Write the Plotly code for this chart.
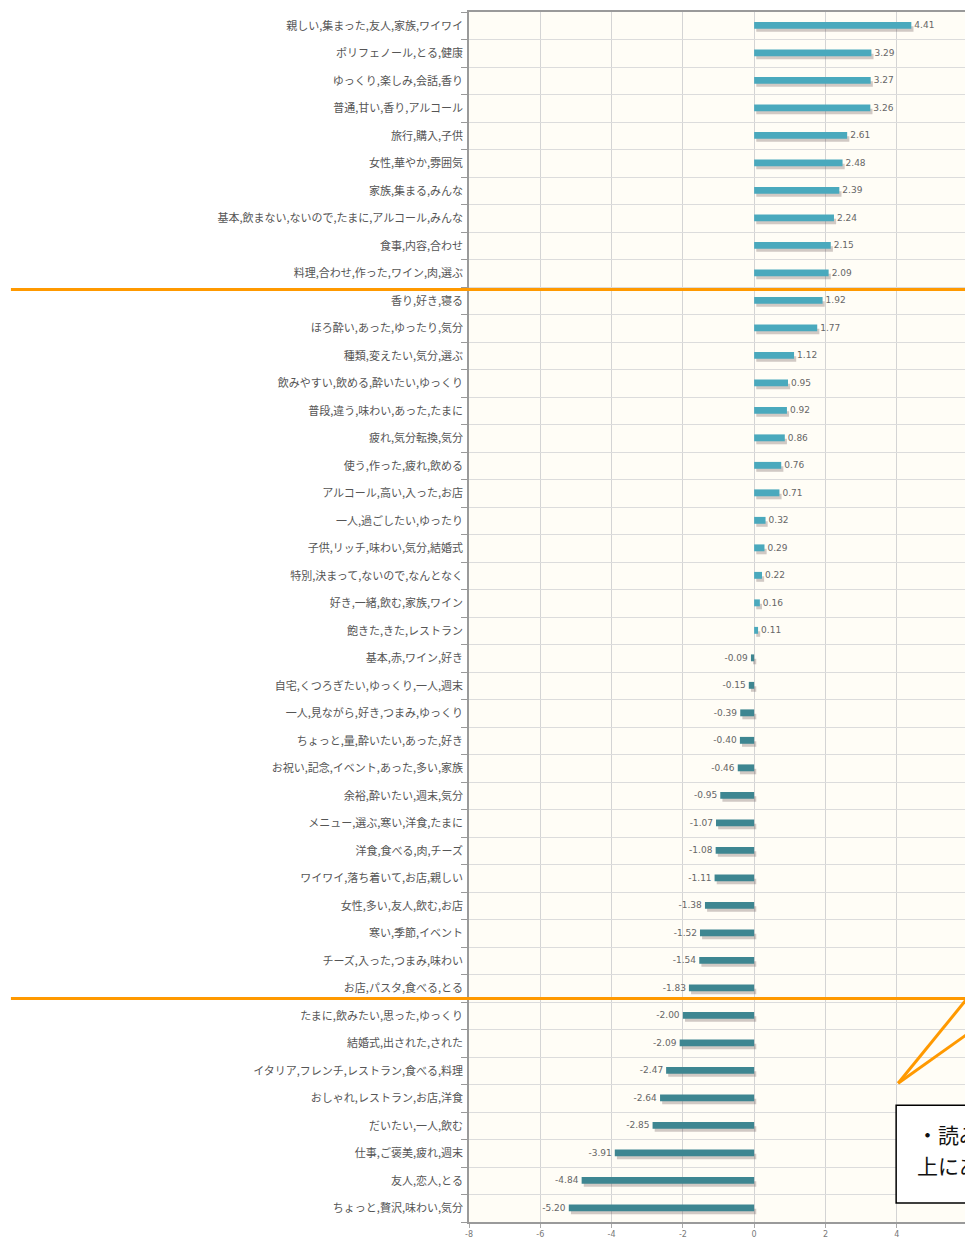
import plotly.graph_objects as go

categories = [
    "親しい,集まった,友人,家族,ワイワイ",
    "ポリフェノール,とる,健康",
    "ゆっくり,楽しみ,会話,香り",
    "普通,甘い,香り,アルコール",
    "旅行,購入,子供",
    "女性,華やか,雰囲気",
    "家族,集まる,みんな",
    "基本,飲まない,ないので,たまに,アルコール,みんな",
    "食事,内容,合わせ",
    "料理,合わせ,作った,ワイン,肉,選ぶ",
    "香り,好き,寝る",
    "ほろ酔い,あった,ゆったり,気分",
    "種類,変えたい,気分,選ぶ",
    "飲みやすい,飲める,酔いたい,ゆっくり",
    "普段,違う,味わい,あった,たまに",
    "疲れ,気分転換,気分",
    "使う,作った,疲れ,飲める",
    "アルコール,高い,入った,お店",
    "一人,過ごしたい,ゆったり",
    "子供,リッチ,味わい,気分,結婚式",
    "特別,決まって,ないので,なんとなく",
    "好き,一緒,飲む,家族,ワイン",
    "飽きた,きた,レストラン",
    "基本,赤,ワイン,好き",
    "自宅,くつろぎたい,ゆっくり,一人,週末",
    "一人,見ながら,好き,つまみ,ゆっくり",
    "ちょっと,量,酔いたい,あった,好き",
    "お祝い,記念,イベント,あった,多い,家族",
    "余裕,酔いたい,週末,気分",
    "メニュー,選ぶ,寒い,洋食,たまに",
    "洋食,食べる,肉,チーズ",
    "ワイワイ,落ち着いて,お店,親しい",
    "女性,多い,友人,飲む,お店",
    "寒い,季節,イベント",
    "チーズ,入った,つまみ,味わい",
    "お店,パスタ,食べる,とる",
    "たまに,飲みたい,思った,ゆっくり",
    "結婚式,出された,された",
    "イタリア,フレンチ,レストラン,食べる,料理",
    "おしゃれ,レストラン,お店,洋食",
    "だいたい,一人,飲む",
    "仕事,ご褒美,疲れ,週末",
    "友人,恋人,とる",
    "ちょっと,贅沢,味わい,気分",
]
values = [
    4.41, 3.29, 3.27, 3.26, 2.61, 2.48, 2.39, 2.24, 2.15, 2.09,
    1.92, 1.77, 1.12, 0.95, 0.92, 0.86, 0.76, 0.71, 0.32, 0.29,
    0.22, 0.16, 0.11, -0.09, -0.15, -0.39, -0.40, -0.46, -0.95, -1.07,
    -1.08, -1.11, -1.38, -1.52, -1.54, -1.83, -2.00, -2.09, -2.47, -2.64,
    -2.85, -3.91, -4.84, -5.20,
]
x_ticks = [-8, -6, -4, -2, 0, 2, 4, 6]
callout_lines = ["・読み取れる", "上にある"]

# bottom-to-top order for the category axis
cats = categories[::-1]
vals = values[::-1]

POS = "#4aa9bd"
NEG = "#3e8691"
colors = [POS if v >= 0 else NEG for v in vals]
font_jp = "Noto Sans CJK JP"

fig = go.Figure()

# soft shadow under each bar
fig.add_trace(go.Bar(
    y=cats, x=vals, orientation="h",
    base=[0.06 for v in vals],
    width=0.2, offset=-0.22,
    marker=dict(color="rgba(90,70,70,0.28)", line=dict(width=0)),
    hoverinfo="skip", showlegend=False,
))
# main bars
fig.add_trace(go.Bar(
    y=cats, x=vals, orientation="h",
    width=0.25, offset=-0.11,
    marker=dict(color=colors, line=dict(width=0)),
    text=[f"{v:.2f}" for v in vals],
    textposition="outside", constraintext="none", cliponaxis=False,
    textfont=dict(family="DejaVu Sans", size=9, color="#666"),
    showlegend=False,
))

shapes = []
orange = dict(color="#ff9900", width=3)
# horizontal separators (hand-drawn overlay, paper coordinates)
for yp in [0.7706, 0.1848]:
    shapes.append(dict(type="line", xref="paper", yref="paper",
                       x0=-0.918, x1=1.02, y0=yp, y1=yp, line=orange, layer="above"))
# callout pointer
shapes.append(dict(type="line", xref="paper", yref="paper",
                   x0=0.86, y0=0.1147, x1=1.03, y1=0.2007, line=orange, layer="above"))
shapes.append(dict(type="line", xref="paper", yref="paper",
                   x0=0.86, y0=0.1147, x1=1.03, y1=0.1645, line=orange, layer="above"))
# callout box
shapes.append(dict(type="rect", xref="paper", yref="paper",
                   x0=0.856, x1=1.2, y0=0.0157, y1=0.0965,
                   fillcolor="white", line=dict(color="black", width=1.5), layer="above"))

annotations = [
    dict(text=callout_lines[0], xref="paper", yref="paper", x=0.894, y=0.0726,
         xanchor="left", yanchor="middle", showarrow=False,
         font=dict(family=font_jp, size=21, color="#111")),
    dict(text=callout_lines[1], xref="paper", yref="paper", x=0.894, y=0.0470,
         xanchor="left", yanchor="middle", showarrow=False,
         font=dict(family=font_jp, size=21, color="#111")),
]

fig.update_layout(
    width=965, height=1235,
    margin=dict(l=461, r=4, t=2, b=21),
    paper_bgcolor="white",
    plot_bgcolor="#fffdf6",
    barmode="overlay",
    shapes=shapes,
    annotations=annotations,
    font=dict(family=font_jp),
)
fig.update_yaxes(
    type="category", categoryorder="array", categoryarray=cats,
    tickson="boundaries", ticks="outside", ticklen=6, tickcolor="#999",
    showgrid=True, gridcolor="#dcdcdc", gridwidth=1,
    showline=True, linecolor="#9a9a9a", linewidth=1.5, mirror=True,
    tickfont=dict(family=font_jp, size=11, color="#555"),
    ticklabelstandoff=2,
)
fig.update_xaxes(
    range=[-8, 6], tickvals=x_ticks, ticktext=[str(t) for t in x_ticks],
    ticks="outside", ticklen=4, tickcolor="#aaa",
    showgrid=True, gridcolor="#d4d4d4", gridwidth=1, zeroline=False,
    showline=True, linecolor="#9a9a9a", linewidth=1.5, mirror=True,
    tickfont=dict(family="DejaVu Sans", size=8, color="#777"),
)

fig.write_html("out.html")
